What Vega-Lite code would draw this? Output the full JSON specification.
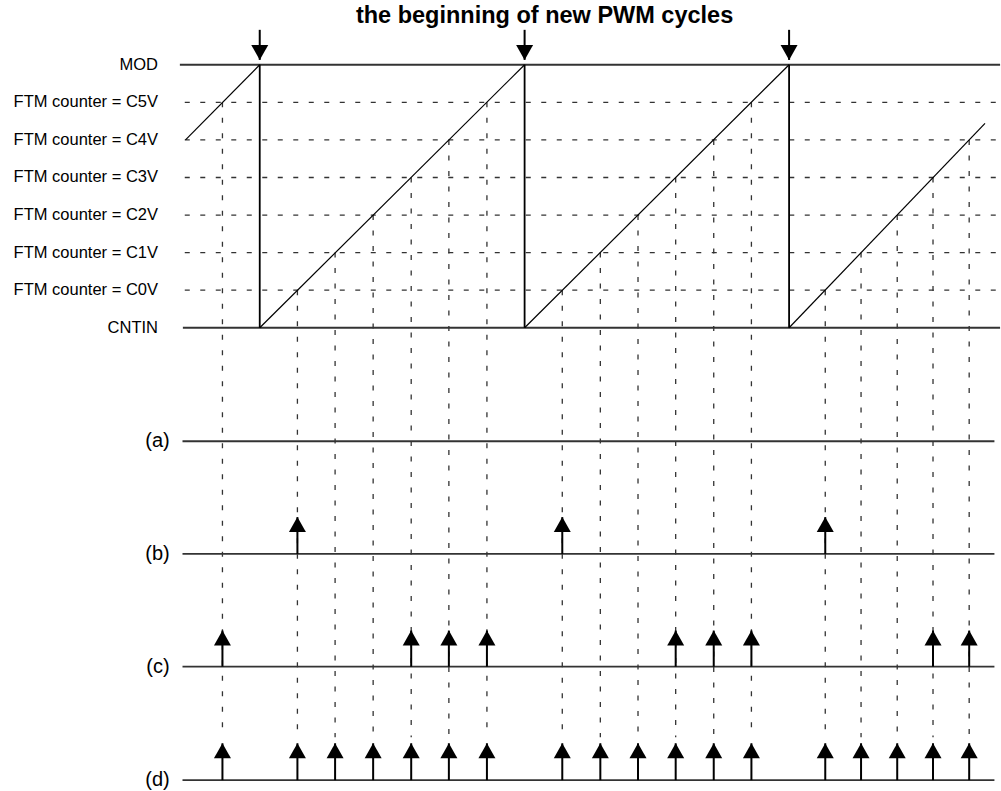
{
  "$schema": "https://vega.github.io/schema/vega-lite/v6.json",
  "width": 1001,
  "height": 791,
  "padding": 0,
  "autosize": {"type": "fit", "contains": "padding"},
  "background": "white",
  "config": {"view": {"stroke": null}, "text": {"font": "Liberation Sans"}},
  "datasets": {
    "hsolid": [
      {"name": "MOD", "L": 7, "t0": -2.12, "t1": 19.65},
      {"name": "CNTIN", "L": 0, "t0": -2.04, "t1": 19.65},
      {"name": "(a)", "L": -3.02, "t0": -2.05, "t1": 19.5},
      {"name": "(b)", "L": -6.02, "t0": -2.05, "t1": 19.5},
      {"name": "(c)", "L": -9.02, "t0": -2.05, "t1": 19.5},
      {"name": "(d)", "L": -12.04, "t0": -2.05, "t1": 19.5}
    ],
    "hdashed": [
      {"name": "C0V", "L": 1, "t0": -1.99, "t1": 19.55},
      {"name": "C1V", "L": 2, "t0": -1.99, "t1": 19.55},
      {"name": "C2V", "L": 3, "t0": -1.99, "t1": 19.55},
      {"name": "C3V", "L": 4, "t0": -1.99, "t1": 19.55},
      {"name": "C4V", "L": 5, "t0": -1.99, "t1": 19.55},
      {"name": "C5V", "L": 6, "t0": -1.99, "t1": 19.55}
    ],
    "ramps": [
      {"seg": 1, "t": -1.97, "L": 5},
      {"seg": 1, "t": 0, "L": 7},
      {"seg": 2, "t": 0, "L": 0},
      {"seg": 2, "t": 7.03, "L": 7},
      {"seg": 3, "t": 7.03, "L": 0},
      {"seg": 3, "t": 14.05, "L": 7},
      {"seg": 4, "t": 14.05, "L": 0},
      {"seg": 4, "t": 19.25, "L": 5.44}
    ],
    "drops": [
      {"t": 0, "top": 7, "bottom": 0},
      {"t": 7.03, "top": 7, "bottom": 0},
      {"t": 14.05, "top": 7, "bottom": 0}
    ],
    "crossings": [
      {"t": -0.99, "L": 6},
      {"t": 1.0, "L": 1}, {"t": 2.0, "L": 2}, {"t": 3.01, "L": 3}, {"t": 4.02, "L": 4}, {"t": 5.02, "L": 5}, {"t": 6.03, "L": 6},
      {"t": 8.03, "L": 1}, {"t": 9.04, "L": 2}, {"t": 10.04, "L": 3}, {"t": 11.04, "L": 4}, {"t": 12.05, "L": 5}, {"t": 13.05, "L": 6},
      {"t": 15.01, "L": 1}, {"t": 15.96, "L": 2}, {"t": 16.92, "L": 3}, {"t": 17.87, "L": 4}, {"t": 18.83, "L": 5}
    ],
    "arrows": [
      {"row": "b", "t": 1.0, "base": -6.02, "tip": -5.04},
      {"row": "b", "t": 8.03, "base": -6.02, "tip": -5.04},
      {"row": "b", "t": 15.01, "base": -6.02, "tip": -5.04},
      {"row": "c", "t": -0.99, "base": -9.02, "tip": -8.06},
      {"row": "c", "t": 4.02, "base": -9.02, "tip": -8.06},
      {"row": "c", "t": 5.02, "base": -9.02, "tip": -8.06},
      {"row": "c", "t": 6.03, "base": -9.02, "tip": -8.06},
      {"row": "c", "t": 11.04, "base": -9.02, "tip": -8.06},
      {"row": "c", "t": 12.05, "base": -9.02, "tip": -8.06},
      {"row": "c", "t": 13.05, "base": -9.02, "tip": -8.06},
      {"row": "c", "t": 17.87, "base": -9.02, "tip": -8.06},
      {"row": "c", "t": 18.83, "base": -9.02, "tip": -8.06},
      {"row": "d", "t": -0.99, "base": -12.04, "tip": -11.06},
      {"row": "d", "t": 1.0, "base": -12.04, "tip": -11.06},
      {"row": "d", "t": 2.0, "base": -12.04, "tip": -11.06},
      {"row": "d", "t": 3.01, "base": -12.04, "tip": -11.06},
      {"row": "d", "t": 4.02, "base": -12.04, "tip": -11.06},
      {"row": "d", "t": 5.02, "base": -12.04, "tip": -11.06},
      {"row": "d", "t": 6.03, "base": -12.04, "tip": -11.06},
      {"row": "d", "t": 8.03, "base": -12.04, "tip": -11.06},
      {"row": "d", "t": 9.04, "base": -12.04, "tip": -11.06},
      {"row": "d", "t": 10.04, "base": -12.04, "tip": -11.06},
      {"row": "d", "t": 11.04, "base": -12.04, "tip": -11.06},
      {"row": "d", "t": 12.05, "base": -12.04, "tip": -11.06},
      {"row": "d", "t": 13.05, "base": -12.04, "tip": -11.06},
      {"row": "d", "t": 15.01, "base": -12.04, "tip": -11.06},
      {"row": "d", "t": 15.96, "base": -12.04, "tip": -11.06},
      {"row": "d", "t": 16.92, "base": -12.04, "tip": -11.06},
      {"row": "d", "t": 17.87, "base": -12.04, "tip": -11.06},
      {"row": "d", "t": 18.83, "base": -12.04, "tip": -11.06}
    ],
    "downarrows": [
      {"t": 0, "top": 7.93, "tip": 7.13},
      {"t": 7.03, "top": 7.93, "tip": 7.13},
      {"t": 14.05, "top": 7.93, "tip": 7.13}
    ],
    "levellabels": [
      {"label": "MOD", "L": 7},
      {"label": "FTM counter = C5V", "L": 6},
      {"label": "FTM counter = C4V", "L": 5},
      {"label": "FTM counter = C3V", "L": 4},
      {"label": "FTM counter = C2V", "L": 3},
      {"label": "FTM counter = C1V", "L": 2},
      {"label": "FTM counter = C0V", "L": 1},
      {"label": "CNTIN", "L": 0}
    ],
    "rowlabels": [
      {"label": "(a)", "L": -3.02},
      {"label": "(b)", "L": -6.02},
      {"label": "(c)", "L": -9.02},
      {"label": "(d)", "L": -12.04}
    ],
    "titles": [
      {"title": "the beginning of new PWM cycles"}
    ]
  },
  "layer": [
    {
      "data": {"name": "hdashed"},
      "mark": {"type": "rule", "color": "#333333", "strokeWidth": 1.3, "strokeDash": [5, 10.5]},
      "encoding": {
        "x": {"field": "t0", "type": "quantitative", "scale": {"domain": [-6.894, 19.648], "nice": false, "zero": false}, "axis": null},
        "x2": {"field": "t1"},
        "y": {"field": "L", "type": "quantitative", "scale": {"domain": [-12.25, 8.724], "nice": false, "zero": false}, "axis": null}
      }
    },
    {
      "data": {"name": "crossings"},
      "mark": {"type": "rule", "color": "#333333", "strokeWidth": 1.3, "strokeDash": [5, 10.5]},
      "encoding": {
        "x": {"field": "t", "type": "quantitative", "scale": {"domain": [-6.894, 19.648], "nice": false, "zero": false}, "axis": null},
        "y": {"field": "L", "type": "quantitative", "scale": {"domain": [-12.25, 8.724], "nice": false, "zero": false}, "axis": null},
        "y2": {"datum": -10.9}
      }
    },
    {
      "data": {"name": "hsolid"},
      "mark": {"type": "rule", "color": "#333333", "strokeWidth": 1.8},
      "encoding": {
        "x": {"field": "t0", "type": "quantitative", "scale": {"domain": [-6.894, 19.648], "nice": false, "zero": false}, "axis": null},
        "x2": {"field": "t1"},
        "y": {"field": "L", "type": "quantitative", "scale": {"domain": [-12.25, 8.724], "nice": false, "zero": false}, "axis": null}
      }
    },
    {
      "data": {"name": "ramps"},
      "mark": {"type": "line", "color": "#000000", "strokeWidth": 1.2},
      "encoding": {
        "x": {"field": "t", "type": "quantitative", "scale": {"domain": [-6.894, 19.648], "nice": false, "zero": false}, "axis": null},
        "y": {"field": "L", "type": "quantitative", "scale": {"domain": [-12.25, 8.724], "nice": false, "zero": false}, "axis": null},
        "detail": {"field": "seg", "type": "nominal"}
      }
    },
    {
      "data": {"name": "drops"},
      "mark": {"type": "rule", "color": "#000000", "strokeWidth": 1.8},
      "encoding": {
        "x": {"field": "t", "type": "quantitative", "scale": {"domain": [-6.894, 19.648], "nice": false, "zero": false}, "axis": null},
        "y": {"field": "top", "type": "quantitative", "scale": {"domain": [-12.25, 8.724], "nice": false, "zero": false}, "axis": null},
        "y2": {"field": "bottom"}
      }
    },
    {
      "data": {"name": "arrows"},
      "mark": {"type": "rule", "color": "#000000", "strokeWidth": 2},
      "encoding": {
        "x": {"field": "t", "type": "quantitative", "scale": {"domain": [-6.894, 19.648], "nice": false, "zero": false}, "axis": null},
        "y": {"field": "base", "type": "quantitative", "scale": {"domain": [-12.25, 8.724], "nice": false, "zero": false}, "axis": null},
        "y2": {"field": "tip"}
      }
    },
    {
      "data": {"name": "arrows"},
      "mark": {"type": "point", "shape": "M0,0L-1,1.75L1,1.75Z", "filled": true, "color": "#000000", "opacity": 1, "size": 289, "strokeWidth": 0},
      "encoding": {
        "x": {"field": "t", "type": "quantitative", "scale": {"domain": [-6.894, 19.648], "nice": false, "zero": false}, "axis": null},
        "y": {"field": "tip", "type": "quantitative", "scale": {"domain": [-12.25, 8.724], "nice": false, "zero": false}, "axis": null}
      }
    },
    {
      "data": {"name": "downarrows"},
      "mark": {"type": "rule", "color": "#000000", "strokeWidth": 2},
      "encoding": {
        "x": {"field": "t", "type": "quantitative", "scale": {"domain": [-6.894, 19.648], "nice": false, "zero": false}, "axis": null},
        "y": {"field": "top", "type": "quantitative", "scale": {"domain": [-12.25, 8.724], "nice": false, "zero": false}, "axis": null},
        "y2": {"field": "tip"}
      }
    },
    {
      "data": {"name": "downarrows"},
      "mark": {"type": "point", "shape": "M0,0L-1,-1.75L1,-1.75Z", "filled": true, "color": "#000000", "opacity": 1, "size": 289, "strokeWidth": 0},
      "encoding": {
        "x": {"field": "t", "type": "quantitative", "scale": {"domain": [-6.894, 19.648], "nice": false, "zero": false}, "axis": null},
        "y": {"field": "tip", "type": "quantitative", "scale": {"domain": [-12.25, 8.724], "nice": false, "zero": false}, "axis": null}
      }
    },
    {
      "data": {"name": "levellabels"},
      "mark": {"type": "text", "align": "right", "baseline": "middle", "fontSize": 16.5, "color": "#000000"},
      "encoding": {
        "x": {"datum": -2.7, "type": "quantitative", "scale": {"domain": [-6.894, 19.648], "nice": false, "zero": false}, "axis": null},
        "y": {"field": "L", "type": "quantitative", "scale": {"domain": [-12.25, 8.724], "nice": false, "zero": false}, "axis": null},
        "text": {"field": "label"}
      }
    },
    {
      "data": {"name": "rowlabels"},
      "mark": {"type": "text", "align": "right", "baseline": "middle", "fontSize": 20, "color": "#000000"},
      "encoding": {
        "x": {"datum": -2.39, "type": "quantitative", "scale": {"domain": [-6.894, 19.648], "nice": false, "zero": false}, "axis": null},
        "y": {"field": "L", "type": "quantitative", "scale": {"domain": [-12.25, 8.724], "nice": false, "zero": false}, "axis": null},
        "text": {"field": "label"}
      }
    },
    {
      "data": {"name": "titles"},
      "mark": {"type": "text", "align": "center", "baseline": "alphabetic", "fontSize": 23.5, "fontWeight": "bold", "color": "#000000"},
      "encoding": {
        "x": {"datum": 7.56, "type": "quantitative", "scale": {"domain": [-6.894, 19.648], "nice": false, "zero": false}, "axis": null},
        "y": {"datum": 8.12, "type": "quantitative", "scale": {"domain": [-12.25, 8.724], "nice": false, "zero": false}, "axis": null},
        "text": {"field": "title"}
      }
    }
  ]
}
